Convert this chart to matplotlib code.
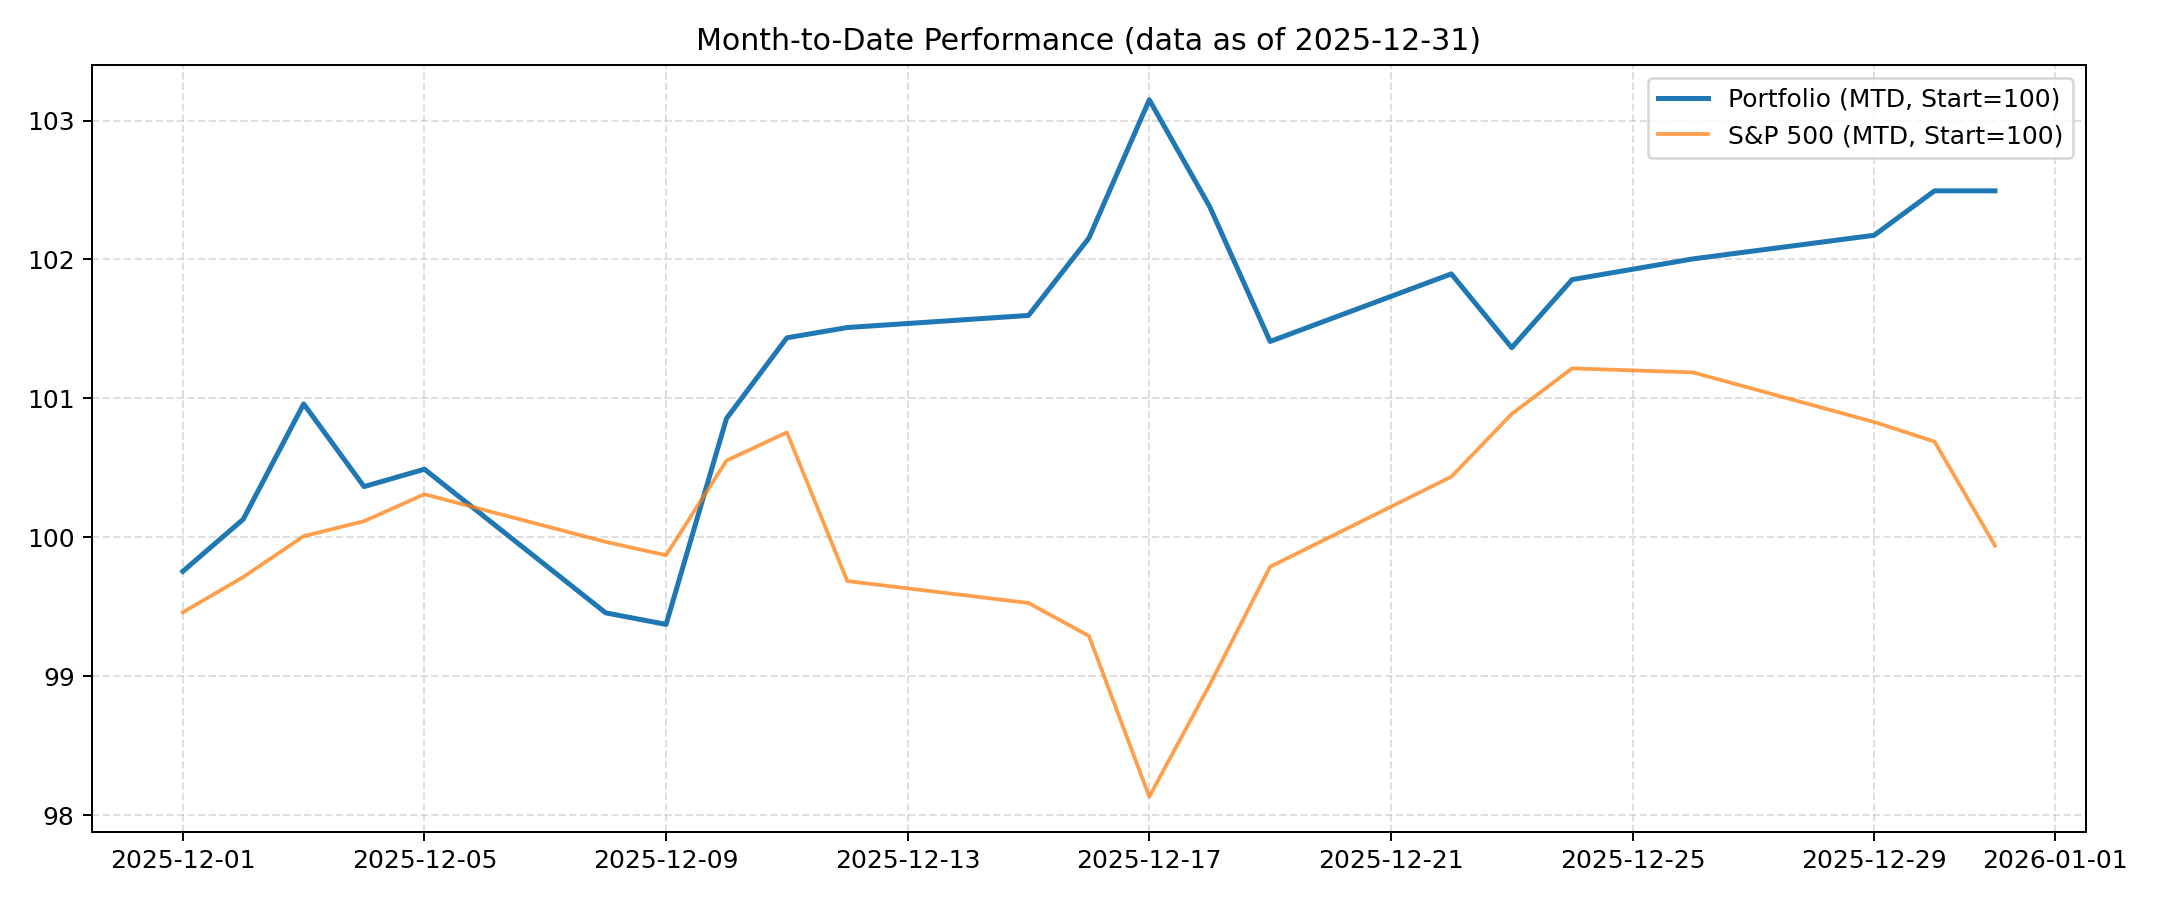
import matplotlib
matplotlib.use("Agg")
import matplotlib.pyplot as plt
import pandas as pd

dates = ["2025-12-01", "2025-12-02", "2025-12-03", "2025-12-04", "2025-12-05",
         "2025-12-08", "2025-12-09", "2025-12-10", "2025-12-11", "2025-12-12",
         "2025-12-15", "2025-12-16", "2025-12-17", "2025-12-18", "2025-12-19",
         "2025-12-22", "2025-12-23", "2025-12-24", "2025-12-26", "2025-12-29",
         "2025-12-30", "2025-12-31"]
portfolio = [99.755, 100.13, 100.96, 100.365, 100.49,
             99.456, 99.373, 100.855, 101.436, 101.51,
             101.597, 102.154, 103.149, 102.38, 101.41,
             101.896, 101.365, 101.855, 102.004, 102.174,
             102.494, 102.494]
sp500 = [99.46, 99.714, 100.008, 100.116, 100.31,
         99.967, 99.871, 100.552, 100.755, 99.685,
         99.527, 99.29, 98.133, 98.938, 99.788,
         100.436, 100.888, 101.216, 101.187, 100.83,
         100.689, 99.94]

x = pd.to_datetime(dates)

fig, ax = plt.subplots(figsize=(12, 5), dpi=180)
ax.plot(x, portfolio, color="#1f77b4", linewidth=2,
        label="Portfolio (MTD, Start=100)")
ax.plot(x, sp500, color="#ff7f0e", linewidth=1.5, alpha=0.75,
        label="S&P 500 (MTD, Start=100)")
ax.set_title("Month-to-Date Performance (data as of 2025-12-31)")
ax.grid(True, linestyle="--", alpha=0.4)
ax.legend(loc="upper right")
fig.tight_layout()
fig.savefig("out.png")
